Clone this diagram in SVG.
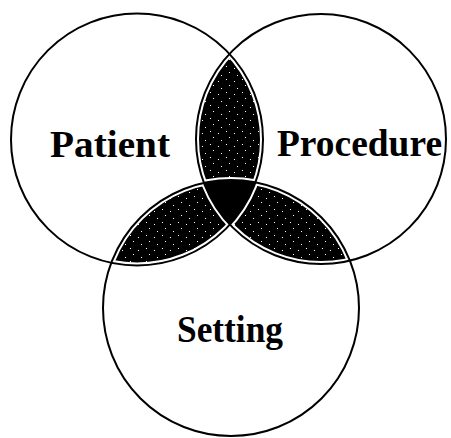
<svg xmlns="http://www.w3.org/2000/svg" width="451" height="438" viewBox="0 0 451 438">
  <style>
    .outline { fill: none; stroke: #000; stroke-width: 2; }
    .halo { fill: none; stroke: #fff; stroke-width: 6; }
    .label { font-family: "Liberation Serif", "Times New Roman", serif; font-weight: bold; font-size: 37px; fill: #000; }
  </style>
  <defs>
    <pattern id="stip" width="16" height="13" patternUnits="userSpaceOnUse">
      <rect width="16" height="13" fill="#000"/>
      <rect x="2" y="1" width="1" height="1" fill="#fff"/>
      <rect x="10" y="3" width="1" height="1" fill="#fff"/>
      <rect x="5" y="7" width="1" height="1" fill="#fff"/>
      <rect x="13" y="10" width="1" height="1" fill="#fff"/>
    </pattern>
    <clipPath id="cL"><circle cx="137" cy="139.5" r="126"/></clipPath>
    <clipPath id="cR"><circle cx="321" cy="139" r="125"/></clipPath>
    <clipPath id="cB"><circle cx="231" cy="308" r="128"/></clipPath>
  </defs>
  <rect width="451" height="438" fill="#fff"/>

  <g id="overlaps">
    <g clip-path="url(#cL)"><g clip-path="url(#cR)"><rect width="451" height="438" fill="url(#stip)"/></g></g>
    <g clip-path="url(#cL)"><g clip-path="url(#cB)"><rect width="451" height="438" fill="url(#stip)"/></g></g>
    <g clip-path="url(#cR)"><g clip-path="url(#cB)"><rect width="451" height="438" fill="url(#stip)"/></g></g>
    <circle class="halo" cx="137" cy="139.5" r="126"/>
    <circle class="halo" cx="321" cy="139" r="125"/>
    <circle class="halo" cx="231" cy="308" r="128"/>
  </g>

  <g id="connectors"></g>

  <g id="node-patient">
    <circle class="outline" cx="137" cy="139.5" r="126"/>
    <text class="label" x="50" y="157" textLength="120" lengthAdjust="spacingAndGlyphs">Patient</text>
  </g>
  <g id="node-procedure">
    <circle class="outline" cx="321" cy="139" r="125"/>
    <text class="label" x="277" y="156" textLength="165" lengthAdjust="spacingAndGlyphs">Procedure</text>
  </g>
  <g id="node-setting">
    <circle class="outline" cx="231" cy="308" r="128"/>
    <text class="label" x="177" y="342" textLength="106" lengthAdjust="spacingAndGlyphs">Setting</text>
  </g>

  <g id="overlap-center">
    <g clip-path="url(#cL)"><g clip-path="url(#cR)"><g clip-path="url(#cB)"><rect width="451" height="438" fill="#000"/></g></g></g>
  </g>
</svg>
